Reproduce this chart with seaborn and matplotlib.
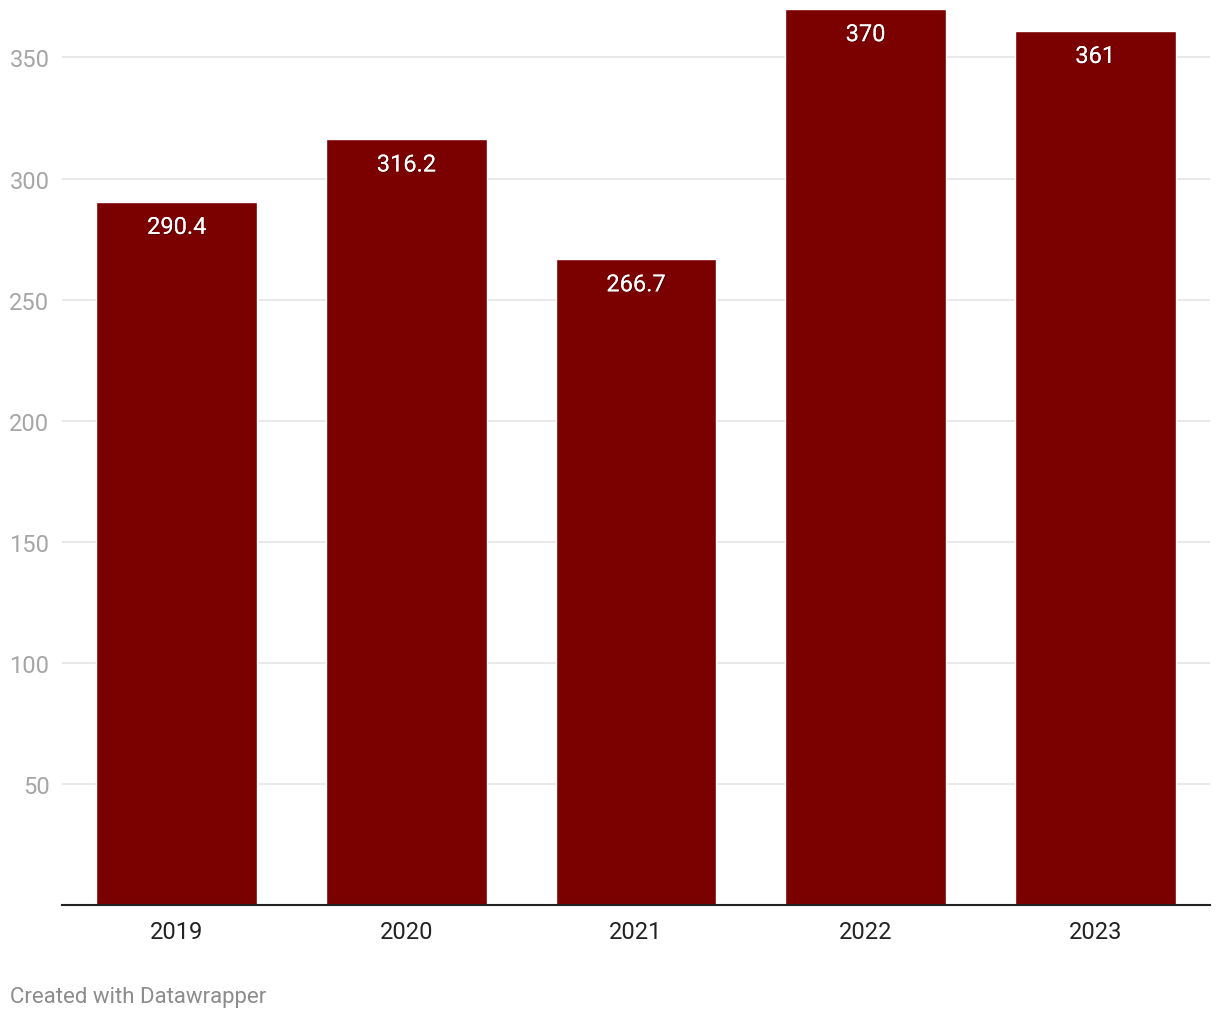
import pandas as pd
import seaborn as sns
import matplotlib.pyplot as plt
import matplotlib.patheffects as pe

years = ['2019', '2020', '2021', '2022', '2023']
values = [290.4, 316.2, 266.7, 370, 361]
labels = ['290.4', '316.2', '266.7', '370', '361']

df = pd.DataFrame({'year': years, 'value': values})

sns.set_style('white')
plt.rcParams['font.family'] = ['Roboto', 'DejaVu Sans']

fig = plt.figure(figsize=(12.2, 10.2), dpi=100)
ax = fig.add_axes([62 / 1220, 1 - 906 / 1020, 1148 / 1220, 896 / 1020])

sns.barplot(data=df, x='year', y='value', color='#7b0000', saturation=1, width=0.7, ax=ax, zorder=3)

ax.set_xlim(-0.5, 4.5)
ax.set_ylim(0, 370)
ax.set_yticks([50, 100, 150, 200, 250, 300, 350])
ax.yaxis.grid(True, color='#e5e5e5', linewidth=1.2, zorder=0)
ax.set_axisbelow(True)
ax.set_xlabel('')
ax.set_ylabel('')

for s in ['top', 'right', 'left']:
    ax.spines[s].set_visible(False)
ax.spines['bottom'].set_color('#222222')
ax.spines['bottom'].set_linewidth(1.5)
ax.spines['bottom'].set_zorder(4)

ax.tick_params(axis='y', length=0, pad=9, labelsize=17, labelcolor='#a6a6a6')
ax.tick_params(axis='x', length=0, pad=10.5, labelsize=17, labelcolor='#222222')

for i, v in enumerate(values):
    ax.annotate(labels[i], (i, v), xytext=(0, -18.5), textcoords='offset points',
                ha='center', va='center', color='white', fontsize=17,
                path_effects=[pe.withSimplePatchShadow(offset=(0.6, -0.6), shadow_rgbFace='#300000', alpha=0.6), pe.Normal()])

fig.text(10 / 1220, 1 - 998 / 1020, 'Created with Datawrapper', ha='left', va='center',
         fontsize=16, color='#8c8c8c')

fig.savefig('out.png', dpi=100)
